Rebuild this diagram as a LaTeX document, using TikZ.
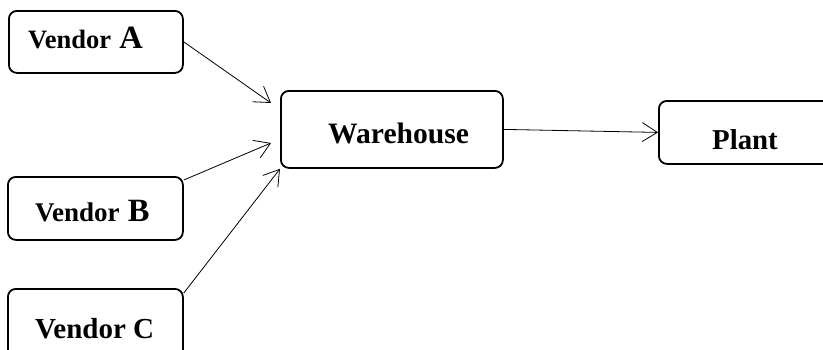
\documentclass[tikz,border=0pt]{standalone}
\usepackage{fontspec}
\setmainfont{Liberation Serif}
\usetikzlibrary{arrows.meta,calc}
\begin{document}
\begin{tikzpicture}[x=1pt,y=-1pt,
  box/.style={draw, line width=1.8pt, rounded corners=8pt, inner sep=0pt, anchor=north west},
  lbl/.style={font=\bfseries, inner sep=0pt, anchor=base west},
  conn/.style={line width=0.8pt, -{Straight Barb[length=15pt,width=19pt]}}]
\useasboundingbox (0,0) rectangle (823,349);
\clip (0,0) rectangle (823,349);
\node[box, minimum width=174pt, minimum height=62pt] (A) at (8,10) {};
\node[box, minimum width=175pt, minimum height=63pt] (B) at (7,176) {};
\node[box, minimum width=175pt, minimum height=90pt] (C) at (7,288) {};
\node[box, minimum width=222pt, minimum height=77pt] (W) at (280,90) {};
\node[box, minimum width=200pt, minimum height=63pt] (P) at (658,100) {};
\node[lbl] (At) at (28,48) {\fontsize{26.5}{30}\selectfont Vendor\fontsize{32.5}{36}\selectfont\ A};
\node[lbl] (Bt) at (35,221) {\fontsize{27}{30}\selectfont Vendor\fontsize{32.5}{36}\selectfont\ B};
\node[lbl] (Ct) at (35,338) {\fontsize{29}{33}\selectfont Vendor C};
\node[lbl] (Wt) at (328,143) {\fontsize{29.6}{34}\selectfont Warehouse};
\node[lbl] (Pt) at (712,149) {\fontsize{28.8}{33}\selectfont Plant};
\coordinate (wa) at ($(W.north west)+(-9,13)$);
\coordinate (wb) at ($(W.north west)+(-9,53)$);
\coordinate (bs) at ($(B.north east)+(0,4)$);
\coordinate (cs) at ($(C.north east)+(0,5)$);
\draw[conn] (A.east) -- (wa);
\draw[conn] (bs) -- (wb);
\draw[conn] (cs) -- (W.south west);
\draw[conn] (W.east) -- (P.west);
\end{tikzpicture}
\end{document}
